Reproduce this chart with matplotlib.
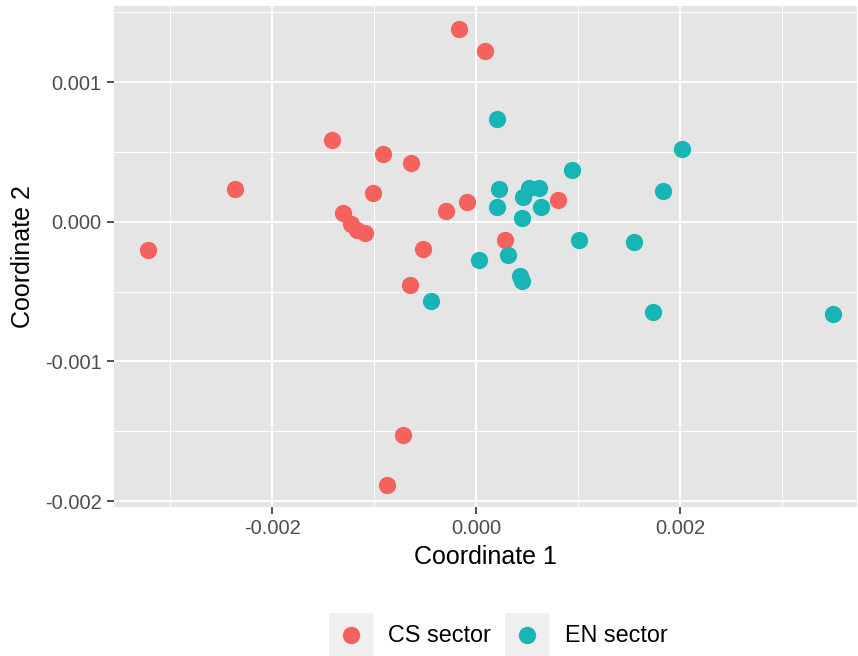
import matplotlib
matplotlib.use("Agg")
from matplotlib import pyplot as plt
from matplotlib.lines import Line2D
from matplotlib.patches import Rectangle

plt.rcParams['font.family'] = ['Liberation Sans', 'DejaVu Sans']

groups = ['CS sector', 'EN sector']
colors = ['#F5625D', '#18B5B7']

# coordinates of the CS sector points
cs_x = [-3.213e-3, -2.360e-3, -1.409e-3, -0.912e-3, -1.013e-3, -1.307e-3,
        -1.229e-3, -1.170e-3, -1.088e-3, -0.640e-3, -0.164e-3, 0.091e-3,
        -0.085e-3, -0.294e-3, 0.804e-3, 0.288e-3, -0.520e-3, -0.644e-3,
        -0.713e-3, -0.876e-3]
cs_y = [-0.204e-3, 0.235e-3, 0.583e-3, 0.488e-3, 0.206e-3, 0.066e-3,
        -0.018e-3, -0.056e-3, -0.080e-3, 0.419e-3, 1.383e-3, 1.223e-3,
        0.142e-3, 0.077e-3, 0.154e-3, -0.132e-3, -0.192e-3, -0.455e-3,
        -1.528e-3, -1.884e-3]

# coordinates of the EN sector points
en_x = [-0.444e-3, 0.033e-3, 0.203e-3, 0.225e-3, 0.203e-3, 0.516e-3,
        0.464e-3, 0.614e-3, 0.637e-3, 0.448e-3, 0.941e-3, 1.013e-3,
        1.549e-3, 1.837e-3, 2.020e-3, 0.314e-3, 0.431e-3, 0.451e-3,
        1.738e-3, 3.497e-3]
en_y = [-0.567e-3, -0.276e-3, 0.734e-3, 0.233e-3, 0.106e-3, 0.245e-3,
        0.178e-3, 0.242e-3, 0.106e-3, 0.025e-3, 0.371e-3, -0.130e-3,
        -0.147e-3, 0.223e-3, 0.524e-3, -0.240e-3, -0.390e-3, -0.424e-3,
        -0.646e-3, -0.660e-3]

x_ticks = [-0.002, 0.0, 0.002]
x_labels = ['-0.002', '0.000', '0.002']
y_ticks = [0.001, 0.0, -0.001, -0.002]
y_labels = ['0.001', '0.000', '-0.001', '-0.002']

W, H = 858, 656
fig = plt.figure(figsize=(W / 100, H / 100), dpi=100)
ax = fig.add_axes([114 / W, 1 - 507 / H, (857 - 114) / W, (507 - 6) / H])
ax.set_facecolor('#E5E5E5')
for s in ax.spines.values():
    s.set_visible(False)

ax.set_xlim(-3.549e-3, 3.735e-3)
ax.set_ylim(-2.042e-3, 1.545e-3)

# grid: minor lines first, then major
ax.set_xticks([-0.003, -0.001, 0.001, 0.003], minor=True)
ax.set_yticks([0.0015, 0.0005, -0.0005, -0.0015], minor=True)
ax.set_xticks(x_ticks)
ax.set_xticklabels(x_labels)
ax.set_yticks(y_ticks)
ax.set_yticklabels(y_labels)
ax.grid(which='major', color='white', linewidth=1.4)
ax.grid(which='minor', color='white', linewidth=0.7)
ax.set_axisbelow(True)
ax.tick_params(which='minor', length=0)
ax.tick_params(which='major', length=5, width=1.2, color='#333333',
               labelcolor='#4D4D4D', labelsize=14.5, pad=4)

ax.scatter(cs_x, cs_y, s=155, color=colors[0], linewidths=0, zorder=3)
ax.scatter(en_x, en_y, s=155, color=colors[1], linewidths=0, zorder=3)

ax.set_xlabel('Coordinate 1', fontsize=18, labelpad=5)
ax.set_ylabel('Coordinate 2', fontsize=18, labelpad=7)

# legend at the bottom, drawn with grey key boxes
key_left = [329, 505]
text_left = [388, 565]
for i, g in enumerate(groups):
    fig.patches.append(Rectangle((key_left[i] / W, 0), 44 / W, 43 / H,
                                 transform=fig.transFigure,
                                 facecolor='#EFEFEF', edgecolor='none'))
    fig.lines.append(Line2D([(key_left[i] + 22) / W], [1 - 635 / H],
                            transform=fig.transFigure, marker='o',
                            markersize=12.5, color=colors[i],
                            markeredgewidth=0, linestyle='none'))
    fig.text(text_left[i] / W, 1 - 635 / H, g, fontsize=16.8,
             va='center', ha='left')

fig.savefig('out.png', dpi=100)
